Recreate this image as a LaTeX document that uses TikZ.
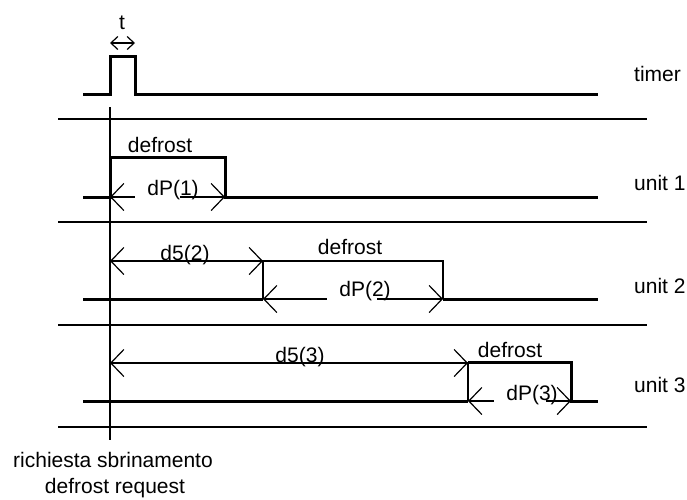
\documentclass[tikz,border=0pt]{standalone}
\usepackage{fontspec}
\setmainfont{Liberation Sans}
\usetikzlibrary{arrows.meta}

\begin{document}
\begin{tikzpicture}[x=1pt,y=-1pt,>={Straight Barb[length=13pt,width=27pt]},
  sig/.style={line width=3pt},
  fine/.style={line width=1.2pt},
  sepln/.style={line width=1.3pt},
  lbl/.style={font=\fontsize{21}{25}\selectfont,inner sep=0pt},
  gapbox/.style={fill=white,minimum height=5pt,inner sep=0pt}]
  \useasboundingbox (0,0) rectangle (687,499);
  % separators and request line
  \foreach \y in {119,222,325,427}
    \draw[sepln] (58,\y) -- (647,\y);
  \draw[fine] (110,107) -- (110,440);
  % timer
  \draw[sig] (83,94) -- (110,94) -- (110,56) -- (135,56) -- (135,94) -- (598,94);
  \draw[fine,<->,>={Straight Barb[length=7pt,width=13pt]}] (110,43) -- (135,43);
  \node[lbl] (tlen) at (122,23) {t};
  % unit 1
  \draw[sig] (83,197) -- (110,197) -- (110,157) -- (225,157) -- (225,197) -- (598,197);
  \node[lbl] (defr1) at (160,145) {defrost};
  \draw[fine,<->] (110,197) -- (225,197);
  \node[gapbox,minimum width=45pt] (gap1) at (157,197) {};
  \node[lbl] (dp1) at (173,190) {dP(1)};
  % unit 2
  \draw[sig] (83,299) -- (263,299);
  \draw[fine] (263,299) -- (263,261) -- (443,261) -- (443,299);
  \draw[sig] (443,299) -- (598,299);
  \draw[fine,<->] (110,261) -- (263,261);
  \node[lbl] (d52) at (185,255) {d5(2)};
  \node[lbl] (defr2) at (350,247) {defrost};
  \draw[fine,<->] (263,299) -- (443,299);
  \node[gapbox,minimum width=50pt] (gap2) at (352,299) {};
  \node[lbl] (dp2) at (365,291) {dP(2)};
  % unit 3
  \draw[sig] (83,401) -- (468,401);
  \draw[fine] (468,401) -- (468,362);
  \draw[sig] (468,362) -- (571,362) -- (571,401) -- (598,401);
  \draw[fine,<->] (110,363) -- (468,363);
  \node[lbl] (d53) at (300,357) {d5(3)};
  \node[lbl] (defr3) at (510,350) {defrost};
  \draw[fine,<->] (468,401) -- (571,401);
  \node[gapbox,minimum width=52pt] (gap3) at (520,401) {};
  \node[lbl] (dp3) at (532,395) {dP(3)};
  % row names
  \node[lbl,anchor=west] (timer) at (634,74) {timer};
  \node[lbl,anchor=west] (unit1) at (634,183) {unit 1};
  \node[lbl,anchor=west] (unit2) at (634,286) {unit 2};
  \node[lbl,anchor=west] (unit3) at (634,385) {unit 3};
  % request text
  \node[lbl,anchor=base] (req1) at (113,467) {richiesta sbrinamento};
  \node[lbl,anchor=base] (req2) at (115,493) {defrost request};
\end{tikzpicture}
\end{document}
